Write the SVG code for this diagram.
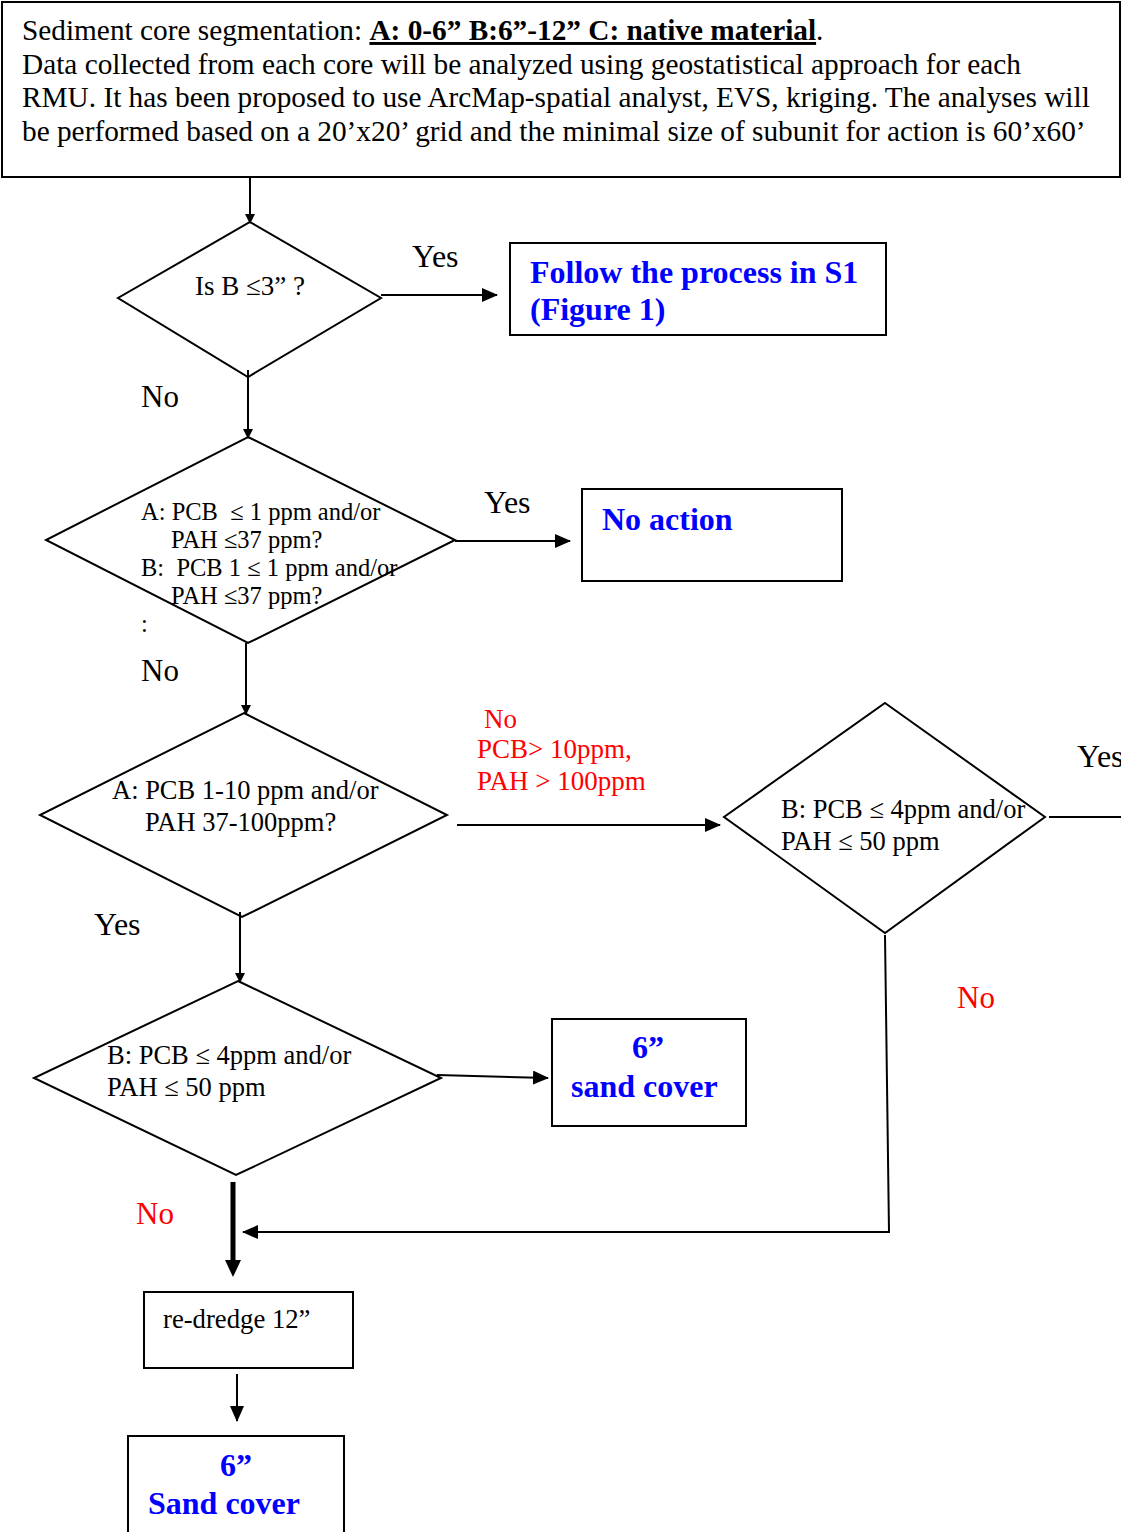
<svg xmlns="http://www.w3.org/2000/svg" width="1121" height="1532" viewBox="0 0 1121 1532">
<style>
text{font-family:"Liberation Serif","Times New Roman",serif;fill:#000}
.s{fill:none;stroke:#000;stroke-width:2}
.b{font-weight:bold;fill:#0000ff;font-size:32px}
.r{fill:#ff0000}
.c{fill:none;stroke:#000;stroke-width:2}
</style>
<defs>
<marker id="ah" markerWidth="10" markerHeight="10" refX="9" refY="5" orient="auto" markerUnits="userSpaceOnUse" viewBox="0 0 10 10">
<path d="M0,0 L10,5 L0,10 z" fill="#000"/>
</marker>
<marker id="ahb" markerWidth="16" markerHeight="14" refX="15" refY="7" orient="auto" markerUnits="userSpaceOnUse" viewBox="0 0 16 14">
<path d="M0,0 L16,7 L0,14 z" fill="#000"/>
</marker>
</defs>
<rect width="1121" height="1532" fill="#fff"/>

<g id="header">
<rect class="s" x="2" y="2" width="1118" height="175"/>
<text x="22" y="40" font-size="29.3">Sediment core segmentation: <tspan font-weight="bold" text-decoration="underline">A: 0-6” B:6”-12” C: native material</tspan>.</text>
<text x="22" y="74" font-size="29.3">Data collected from each core will be analyzed using geostatistical approach for each</text>
<text x="22" y="107" font-size="29.3">RMU. It has been proposed to use ArcMap-spatial analyst, EVS, kriging. The analyses will</text>
<text x="22" y="141" font-size="29.3">be performed based on a 20’x20’ grid and the minimal size of subunit for action is 60’x60’</text>
</g>

<g id="d1">
<polygon class="s" points="250,222 381,298 248,377 118,298"/>
<text x="195" y="295" font-size="27">Is B ≤3” ?</text>
</g>

<g id="s1">
<rect class="s" x="510" y="243" width="376" height="92"/>
<text class="b" x="530" y="283">Follow the process in S1</text>
<text class="b" x="530" y="320">(Figure 1)</text>
</g>

<g id="d2">
<polygon class="s" points="248,437 455,540 248,643 46,540"/>
<text x="141" y="520" font-size="24.5">A: PCB&#160;&#160;≤ 1 ppm and/or</text>
<text x="171" y="548" font-size="24.5">PAH ≤37 ppm?</text>
<text x="141" y="576" font-size="24.5">B:&#160;&#160;PCB 1 ≤ 1 ppm and/or</text>
<text x="171" y="604" font-size="24.5">PAH ≤37 ppm?</text>
<text x="141" y="632" font-size="24.5">:</text>
</g>

<g id="noaction">
<rect class="s" x="582" y="489" width="260" height="92"/>
<text class="b" x="602" y="530">No action</text>
</g>

<g id="d3">
<polygon class="s" points="244,713 447,815 242,917 40,815"/>
<text x="112" y="799" font-size="26.5">A: PCB 1-10 ppm and/or</text>
<text x="145" y="831" font-size="26.5">PAH 37-100ppm?</text>
</g>

<g id="d4">
<polygon class="s" points="885,703 1045,817 885,933 724,817"/>
<text x="781" y="818" font-size="26.5">B: PCB ≤ 4ppm and/or</text>
<text x="781" y="850" font-size="26.5">PAH ≤ 50 ppm</text>
</g>

<g id="d5">
<polygon class="s" points="238,981 441,1078 236,1175 34,1078"/>
<text x="107" y="1064" font-size="26.5">B: PCB ≤ 4ppm and/or</text>
<text x="107" y="1096" font-size="26.5">PAH ≤ 50 ppm</text>
</g>

<g id="sand6">
<rect class="s" x="552" y="1019" width="194" height="107"/>
<text class="b" x="648" y="1058" text-anchor="middle">6”</text>
<text class="b" x="571" y="1097">sand cover</text>
</g>

<g id="redredge">
<rect class="s" x="144" y="1292" width="209" height="76"/>
<text x="163" y="1328" font-size="26.7">re-dredge 12”</text>
</g>

<g id="sandcover">
<rect class="s" x="128" y="1436" width="216" height="100"/>
<text class="b" x="236" y="1476" text-anchor="middle">6”</text>
<text class="b" x="148" y="1514">Sand cover</text>
</g>

<g id="connectors">
<line class="c" x1="250" y1="177" x2="250" y2="223" marker-end="url(#ah)"/>
<line class="c" x1="381" y1="295" x2="497" y2="295" marker-end="url(#ahb)"/>
<line class="c" x1="248" y1="370" x2="248" y2="438" marker-end="url(#ah)"/>
<line class="c" x1="455" y1="541" x2="570" y2="541" marker-end="url(#ahb)"/>
<line class="c" x1="246" y1="643" x2="246" y2="714" marker-end="url(#ah)"/>
<line class="c" x1="457" y1="825" x2="720" y2="825" marker-end="url(#ahb)"/>
<line class="c" x1="1049" y1="817" x2="1121" y2="817"/>
<polyline class="c" points="885,935 889,1232 243,1232" marker-end="url(#ahb)"/>
<line class="c" x1="240" y1="912" x2="240" y2="982" marker-end="url(#ah)"/>
<line class="c" x1="437" y1="1075" x2="548" y2="1078" marker-end="url(#ahb)"/>
<line x1="233" y1="1182" x2="233" y2="1262" stroke="#000" stroke-width="5"/>
<path d="M225,1260 L241,1260 L233,1277 z" fill="#000"/>
<line class="c" x1="237" y1="1374" x2="237" y2="1421" marker-end="url(#ahb)"/>
</g>

<g id="labels">
<text x="412" y="267" font-size="32">Yes</text>
<text x="141" y="407" font-size="31">No</text>
<text x="484" y="513" font-size="32">Yes</text>
<text x="141" y="681" font-size="31">No</text>
<text class="r" x="484" y="728" font-size="27">No</text>
<text class="r" x="477" y="758" font-size="27">PCB&gt; 10ppm,</text>
<text class="r" x="477" y="790" font-size="27">PAH &gt; 100ppm</text>
<text x="1077" y="767" font-size="32">Yes</text>
<text class="r" x="957" y="1008" font-size="31">No</text>
<text x="94" y="935" font-size="32">Yes</text>
<text class="r" x="136" y="1224" font-size="31">No</text>
</g>
</svg>
